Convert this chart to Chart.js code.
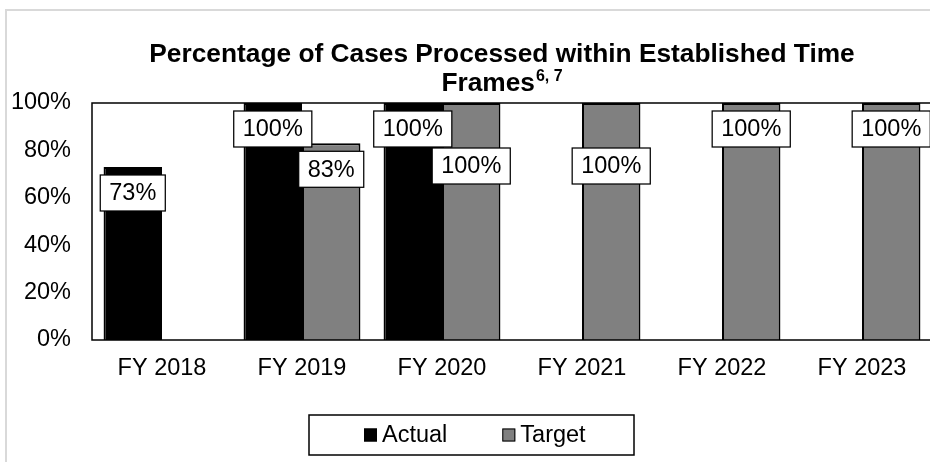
<!DOCTYPE html>
<html>
<head>
<meta charset="utf-8">
<script src="https://cdn.jsdelivr.net/npm/chart.js@4.4.1/dist/chart.umd.min.js"></script>
<style>
  html, body { margin: 0; padding: 0; background: #fff; overflow: hidden; }
  #wrap { width: 936px; height: 462px; }
</style>
</head>
<body>
<div id="wrap"><canvas id="chart" width="936" height="462"></canvas></div>
<script>
// chart data
const categories = ['FY 2018', 'FY 2019', 'FY 2020', 'FY 2021', 'FY 2022', 'FY 2023'];
const actualValues = [73, 100, 100, null, null, null];
const targetValues = [null, 83, 100, 100, 100, 100];
const yTicks = [0, 20, 40, 60, 80, 100];
const titleLines = ['Percentage of Cases Processed within Established Time', 'Frames'];
const titleNote = '6, 7';

const FONT = "'Liberation Sans', Arial, sans-serif";
const TEXT_SIZE = 23.5;

// light grey outer frame, only top and left edges are visible in the crop
const framePlugin = {
  id: 'frame',
  beforeDraw(chart) {
    const ctx = chart.ctx;
    ctx.save();
    ctx.fillStyle = '#fff';
    ctx.fillRect(0, 0, chart.width, chart.height);
    ctx.strokeStyle = '#d9d9d9';
    ctx.lineWidth = 2;
    ctx.beginPath();
    ctx.moveTo(6, chart.height);
    ctx.lineTo(6, 10);
    ctx.lineTo(chart.width, 10);
    ctx.stroke();
    ctx.restore();
  }
};

const titlePlugin = {
  id: 'twoLineTitle',
  afterDraw(chart) {
    const ctx = chart.ctx;
    const cx = (chart.chartArea.left + chart.chartArea.right) / 2 - 10;
    ctx.save();
    ctx.fillStyle = '#000';
    ctx.textBaseline = 'alphabetic';
    ctx.font = `bold 26.3px ${FONT}`;
    ctx.textAlign = 'center';
    ctx.fillText(titleLines[0], cx, 62);
    // second line with superscript note
    const mainW = ctx.measureText(titleLines[1]).width;
    ctx.font = `bold 16px ${FONT}`;
    const noteW = ctx.measureText(titleNote).width;
    const startX = cx - (mainW + noteW + 1) / 2;
    ctx.textAlign = 'left';
    ctx.font = `bold 26.3px ${FONT}`;
    ctx.fillText(titleLines[1], startX, 91);
    ctx.font = `bold 16px ${FONT}`;
    ctx.fillText(titleNote, startX + mainW + 1, 81);
    ctx.restore();
  }
};

const plotBorderPlugin = {
  id: 'plotBorder',
  afterDatasetsDraw(chart) {
    const { left, top, right, bottom } = chart.chartArea;
    const ctx = chart.ctx;
    ctx.save();
    ctx.strokeStyle = '#000';
    ctx.lineWidth = 1.5;
    ctx.strokeRect(left, top, right - left, bottom - top);
    ctx.restore();
  }
};

// boxed value labels just inside the top of each bar
const valueLabelPlugin = {
  id: 'valueLabels',
  afterDatasetsDraw(chart, args, opts) {
    const ctx = chart.ctx;
    ctx.save();
    ctx.font = `${TEXT_SIZE}px ${FONT}`;
    ctx.textAlign = 'center';
    ctx.textBaseline = 'middle';
    chart.data.datasets.forEach((ds, di) => {
      const meta = chart.getDatasetMeta(di);
      const lowered = (opts.lowered && opts.lowered[di]) || [];
      meta.data.forEach((bar, i) => {
        const v = ds.data[i];
        if (v === null || v === undefined) return;
        const text = v + '%';
        const w = ctx.measureText(text).width + 18;
        const h = 36;
        let top = bar.y + 8;
        if (lowered.includes(i)) top += 37;
        const x = bar.x - w / 2;
        ctx.fillStyle = '#fff';
        ctx.fillRect(x, top, w, h);
        ctx.strokeStyle = '#000';
        ctx.lineWidth = 1.25;
        ctx.strokeRect(x, top, w, h);
        ctx.fillStyle = '#000';
        ctx.fillText(text, bar.x, top + h / 2 + 1);
      });
    });
    ctx.restore();
  }
};

// boxed legend at the bottom
const boxLegendPlugin = {
  id: 'boxLegend',
  afterDraw(chart) {
    const ctx = chart.ctx;
    const cx = chart.width / 2 + 3.5;
    const boxW = 325, boxH = 40, boxTop = 415;
    ctx.save();
    ctx.strokeStyle = '#000';
    ctx.lineWidth = 1.5;
    ctx.strokeRect(cx - boxW / 2, boxTop, boxW, boxH);
    ctx.font = `${TEXT_SIZE}px ${FONT}`;
    ctx.textBaseline = 'middle';
    ctx.textAlign = 'left';
    const midY = boxTop + boxH / 2;
    let x = cx - 107.5;
    chart.data.datasets.forEach((ds, i) => {
      ctx.fillStyle = ds.backgroundColor;
      ctx.fillRect(x, midY - 6.5, 13, 13);
      ctx.strokeStyle = '#000';
      ctx.lineWidth = 1;
      ctx.strokeRect(x + 0.5, midY - 6, 12, 12);
      ctx.fillStyle = '#000';
      ctx.fillText(ds.label, x + 18, midY + 1);
      x += 18 + ctx.measureText(ds.label).width + 55;
    });
    ctx.restore();
  }
};

const ctx = document.getElementById('chart').getContext('2d');
new Chart(ctx, {
  type: 'bar',
  data: {
    labels: categories,
    datasets: [
      {
        label: 'Actual',
        data: actualValues,
        backgroundColor: '#000000',
        borderColor: '#000000',
        borderWidth: 2,
        categoryPercentage: 0.835,
        barPercentage: 1.0
      },
      {
        label: 'Target',
        data: targetValues,
        backgroundColor: '#808080',
        borderColor: '#000000',
        borderWidth: 2,
        categoryPercentage: 0.835,
        barPercentage: 1.0
      }
    ]
  },
  options: {
    responsive: false,
    animation: false,
    layout: { padding: { left: 10, right: 4, top: 103, bottom: 82 } },
    plugins: {
      legend: { display: false },
      title: { display: false },
      tooltip: { enabled: false },
      valueLabels: { lowered: { 1: [2, 3] } }
    },
    scales: {
      x: {
        grid: { display: false, drawTicks: false },
        border: { display: false },
        ticks: {
          color: '#000',
          font: { family: FONT, size: TEXT_SIZE },
          padding: 14,
          maxRotation: 0,
          autoSkip: false
        },
        afterFit(scale) { scale.height = 40; }
      },
      y: {
        min: 0,
        max: 100,
        grid: { display: false, drawTicks: false },
        border: { display: false },
        afterBuildTicks(scale) { scale.ticks = yTicks.map(v => ({ value: v })); },
        ticks: {
          color: '#000',
          font: { family: FONT, size: TEXT_SIZE },
          padding: 21,
          callback: v => v + '%'
        },
        afterFit(scale) { scale.width = 82; }
      }
    }
  },
  plugins: [framePlugin, titlePlugin, plotBorderPlugin, valueLabelPlugin, boxLegendPlugin]
});
</script>
</body>
</html>
